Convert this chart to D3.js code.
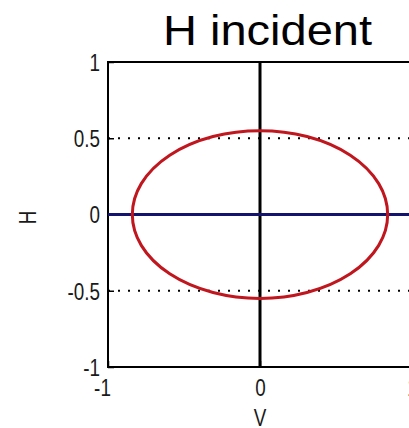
<!DOCTYPE html>
<html>
<head>
<meta charset="utf-8">
<script src="https://cdn.jsdelivr.net/npm/d3@7"></script>
<style>
  html, body { margin: 0; padding: 0; background: #fff; }
  svg { display: block; }
  .tick-label { font-family: "Liberation Sans", Arial, sans-serif; font-size: 23px; fill: #1a1a1a; }
</style>
</head>
<body>
<svg id="chart" width="409" height="428"></svg>
<script>
// Axis ranges and tick values
const xDomain = [-1, 1];
const yDomain = [-1, 1];
const xTicks = [-1, 0, 1];
const yTicks = [-1, -0.5, 0, 0.5, 1];
const yTickLabels = ["-1", "-0.5", "0", "0.5", "1"];
const xTickLabels = ["-1", "0", "1"];
const gridY = [-0.5, 0.5];

// Polarization ellipse (center and semi-axes, in V/H units)
const ellipseCenter = [0, 0];
const ellipseRadii = [0.84, 0.55];

// Reference lines: incident H field (blue) and vertical axis line (black)
const incidentLine = [[-1, 0], [1, 0]];
const verticalLine = [[0, -1], [0, 1]];

const titleText = "H incident";
const xLabel = "V";
const yLabel = "H";

const svg = d3.select("#chart");
const plot = { left: 108, right: 412, top: 62, bottom: 367 };
const narrow = 0.82; // horizontal squeeze for the small axis font

const x = d3.scaleLinear().domain(xDomain).range([plot.left, plot.right]);
const y = d3.scaleLinear().domain(yDomain).range([plot.bottom, plot.top]);

// Dotted grid lines
svg.append("g").selectAll("line").data(gridY).join("line")
  .attr("x1", plot.left).attr("x2", plot.right)
  .attr("y1", d => y(d)).attr("y2", d => y(d))
  .attr("stroke", "#000").attr("stroke-width", 2)
  .attr("stroke-dasharray", "2,8");

// Axes (inward ticks, box)
const yAxis = d3.axisLeft(y).tickValues(yTicks).tickSize(-6).tickFormat((d, i) => yTickLabels[i]);
const xAxis = d3.axisBottom(x).tickValues(xTicks).tickSize(-6).tickFormat((d, i) => xTickLabels[i]);

const gy = svg.append("g").attr("transform", `translate(${plot.left},0)`).call(yAxis);
gy.select(".domain").remove();
gy.selectAll(".tick line").attr("stroke", "#000").attr("stroke-width", 1.5);
gy.selectAll(".tick text").attr("class", "tick-label")
  .attr("x", 0).attr("dy", "0.36em")
  .attr("transform", `translate(-8,0) scale(${narrow},1)`);

const gx = svg.append("g").attr("transform", `translate(0,${plot.bottom})`).call(xAxis);
gx.select(".domain").remove();
gx.selectAll(".tick line").attr("stroke", "#000").attr("stroke-width", 1.5);
gx.selectAll(".tick text").attr("class", "tick-label")
  .attr("y", 0).attr("dy", "0.71em")
  .attr("transform", d => `translate(${d < 0 ? -6 : 0},13) scale(${narrow},1)`);

svg.append("rect")
  .attr("x", plot.left).attr("y", plot.top)
  .attr("width", plot.right - plot.left).attr("height", plot.bottom - plot.top)
  .attr("fill", "none").attr("stroke", "#000").attr("stroke-width", 2);

const line = d3.line().x(d => x(d[0])).y(d => y(d[1]));

svg.append("path").datum(verticalLine).attr("d", line)
  .attr("stroke", "#000").attr("stroke-width", 3).attr("fill", "none");

svg.append("path").datum(incidentLine).attr("d", line)
  .attr("stroke", "#14146e").attr("stroke-width", 3).attr("fill", "none");

svg.append("ellipse")
  .attr("cx", x(ellipseCenter[0])).attr("cy", y(ellipseCenter[1]))
  .attr("rx", x(ellipseRadii[0]) - x(0)).attr("ry", y(0) - y(ellipseRadii[1]))
  .attr("fill", "none").attr("stroke", "#c0161e").attr("stroke-width", 3);

// Title and axis labels
svg.append("text").text(titleText)
  .attr("x", 163).attr("y", 45)
  .attr("textLength", 209).attr("lengthAdjust", "spacingAndGlyphs")
  .attr("font-family", "Liberation Sans, Arial, sans-serif").attr("font-size", 42).attr("fill", "#000");

svg.append("text").text(xLabel).attr("class", "tick-label")
  .attr("transform", `translate(${x(0)},426) scale(${narrow},1)`).attr("text-anchor", "middle");

svg.append("text").text(yLabel).attr("class", "tick-label")
  .attr("transform", `translate(36,${y(0) + 3}) rotate(-90) scale(${narrow},1)`).attr("text-anchor", "middle");
</script>
</body>
</html>
